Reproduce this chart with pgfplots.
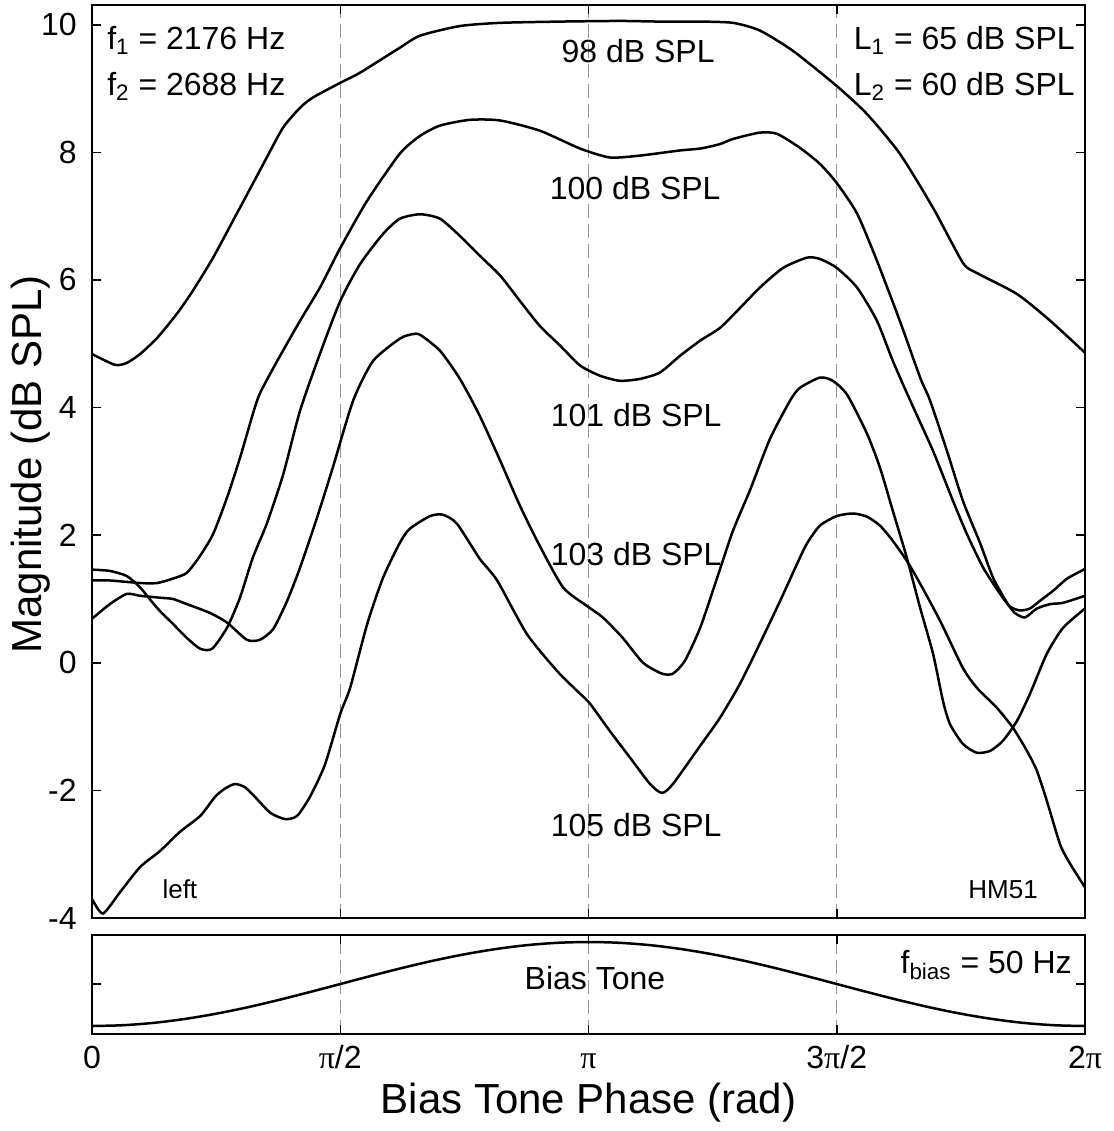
\documentclass[border=0pt]{standalone}
\usepackage{fontspec}
\setmainfont{Liberation Sans}
\newfontfamily\pifont{Liberation Serif}
\usepackage{pgfplots}
\pgfplotsset{compat=1.18}
\definecolor{gridgray}{RGB}{150,150,150}
\newcommand{\tfont}{\fontsize{16}{19}\selectfont}
\newcommand{\sfontx}{\fontsize{13}{15}\selectfont}
\newcommand{\lfont}{\fontsize{21}{25}\selectfont}
\pgfplotsset{
  crv/.style={black, line width=1.25pt, mark=none, smooth, tension=0.4},
  common/.style={
    scale only axis, width=496.5pt,
    xmin=0, xmax=2,
    font=\tfont,
    /pgf/number format/assume math mode=true,
    axis line style={line width=0.75pt},
    tick align=inside,
    major tick length=4.5pt,
    every tick/.style={black, line width=0.75pt},
    xmajorgrids,
    grid style={gridgray, line width=0.7pt, dash pattern=on 7pt off 3pt},
    ytick pos=both, xtick pos=both,
    clip=true,
  }
}
\begin{document}
\begin{tikzpicture}[every node/.append style={inner sep=0pt}]
\path[use as bounding box] (-46pt,-106.5pt) rectangle (511pt,459pt);
\begin{axis}[common, at={(0,0)}, anchor=south west,
  height=456.5pt, ymin=-4, ymax=10.31,
  ytick={-4,-2,0,2,4,6,8,10},
  xtick={0.5,1,1.5}, xticklabels={},
  yticklabel style={inner sep=0pt, xshift=-7.5pt},
]
% 98 dB SPL
\addplot[crv] coordinates {(0,4.84)(0.046,4.67)(0.070,4.70)(0.097,4.84)(0.131,5.09)(0.171,5.47)(0.203,5.83)(0.244,6.35)(0.284,6.93)(0.324,7.51)(0.352,7.92)(0.385,8.39)(0.419,8.70)(0.445,8.86)(0.500,9.09)(0.540,9.25)(0.620,9.64)(0.661,9.83)(0.741,9.98)(0.822,10.03)(0.943,10.05)(1.063,10.06)(1.144,10.05)(1.225,10.05)(1.291,10.03)(1.345,9.91)(1.412,9.59)(1.500,9.04)(1.561,8.60)(1.627,7.98)(1.694,7.13)(1.754,6.27)(1.782,6.11)(1.863,5.78)(1.930,5.36)(2.000,4.86)};
% 100 dB SPL
\addplot[crv] coordinates {(0,1.29)(0.036,1.29)(0.097,1.25)(0.131,1.25)(0.163,1.32)(0.191,1.41)(0.218,1.68)(0.244,2.02)(0.272,2.59)(0.298,3.21)(0.324,3.90)(0.338,4.22)(0.373,4.73)(0.419,5.36)(0.459,5.88)(0.500,6.50)(0.554,7.24)(0.620,7.98)(0.661,8.26)(0.701,8.42)(0.761,8.51)(0.822,8.50)(0.902,8.34)(0.983,8.06)(1.043,7.92)(1.104,7.95)(1.184,8.03)(1.225,8.06)(1.265,8.13)(1.291,8.21)(1.345,8.31)(1.380,8.29)(1.426,8.07)(1.466,7.82)(1.500,7.52)(1.541,7.04)(1.581,6.30)(1.627,5.36)(1.668,4.47)(1.688,4.11)(1.722,3.32)(1.754,2.54)(1.789,1.87)(1.815,1.33)(1.843,0.94)(1.859,0.78)(1.879,0.71)(1.903,0.85)(1.930,0.92)(1.956,0.94)(2.000,1.05)};
% 101 dB SPL
\addplot[crv] coordinates {(0,1.46)(0.036,1.44)(0.070,1.36)(0.097,1.18)(0.131,0.86)(0.163,0.61)(0.191,0.39)(0.218,0.22)(0.242,0.22)(0.272,0.55)(0.298,1.02)(0.324,1.65)(0.352,2.18)(0.385,2.95)(0.419,3.95)(0.459,4.84)(0.500,5.67)(0.540,6.25)(0.586,6.72)(0.620,6.96)(0.661,7.03)(0.701,6.96)(0.741,6.69)(0.781,6.38)(0.822,6.07)(0.862,5.67)(0.902,5.28)(0.943,4.97)(0.983,4.66)(1.023,4.50)(1.063,4.42)(1.104,4.45)(1.144,4.55)(1.184,4.81)(1.225,5.05)(1.265,5.25)(1.305,5.56)(1.345,5.88)(1.392,6.19)(1.440,6.35)(1.466,6.33)(1.500,6.19)(1.541,5.88)(1.581,5.36)(1.613,4.73)(1.648,4.11)(1.694,3.32)(1.734,2.54)(1.762,2.02)(1.795,1.49)(1.829,1.08)(1.849,0.88)(1.869,0.82)(1.889,0.85)(1.909,0.97)(1.936,1.13)(1.964,1.32)(2.000,1.47)};
% 103 dB SPL
\addplot[crv] coordinates {(0,0.69)(0.036,0.92)(0.070,1.08)(0.097,1.05)(0.137,1.02)(0.163,1.00)(0.191,0.92)(0.238,0.78)(0.272,0.63)(0.312,0.36)(0.338,0.36)(0.365,0.53)(0.393,0.97)(0.419,1.49)(0.453,2.27)(0.485,3.06)(0.526,4.11)(0.566,4.73)(0.620,5.08)(0.645,5.15)(0.661,5.14)(0.701,4.89)(0.741,4.45)(0.781,3.87)(0.822,3.17)(0.862,2.46)(0.902,1.83)(0.949,1.18)(0.997,0.89)(1.029,0.71)(1.069,0.39)(1.110,0.00)(1.148,-0.17)(1.170,-0.17)(1.194,0.03)(1.225,0.55)(1.259,1.33)(1.291,2.07)(1.325,2.70)(1.365,3.50)(1.406,4.11)(1.426,4.31)(1.466,4.47)(1.492,4.42)(1.521,4.20)(1.561,3.59)(1.587,3.06)(1.613,2.38)(1.641,1.65)(1.668,0.86)(1.694,0.14)(1.714,-0.60)(1.728,-0.96)(1.754,-1.27)(1.782,-1.41)(1.809,-1.38)(1.835,-1.22)(1.863,-0.91)(1.889,-0.49)(1.923,0.14)(1.956,0.55)(2.000,0.85)};
% 105 dB SPL
\addplot[crv] coordinates {(0,-3.70)(0.022,-3.93)(0.056,-3.60)(0.097,-3.20)(0.137,-2.95)(0.177,-2.65)(0.218,-2.40)(0.248,-2.10)(0.268,-1.97)(0.288,-1.90)(0.308,-1.95)(0.328,-2.10)(0.359,-2.35)(0.389,-2.45)(0.413,-2.40)(0.439,-2.10)(0.469,-1.60)(0.500,-0.80)(0.520,-0.39)(0.554,0.60)(0.586,1.33)(0.620,1.88)(0.640,2.10)(0.681,2.30)(0.707,2.32)(0.735,2.18)(0.781,1.63)(0.816,1.29)(0.876,0.45)(0.937,-0.13)(0.977,-0.44)(1.003,-0.64)(1.043,-1.07)(1.084,-1.49)(1.124,-1.90)(1.148,-2.04)(1.170,-1.90)(1.225,-1.30)(1.265,-0.86)(1.305,-0.33)(1.345,0.30)(1.386,0.97)(1.420,1.55)(1.440,1.87)(1.466,2.15)(1.500,2.30)(1.533,2.34)(1.561,2.29)(1.587,2.15)(1.613,1.91)(1.641,1.60)(1.668,1.24)(1.708,0.66)(1.754,-0.08)(1.782,-0.39)(1.823,-0.71)(1.855,-1.02)(1.883,-1.38)(1.903,-1.69)(1.923,-2.16)(1.950,-2.85)(1.970,-3.15)(2.000,-3.52)};
\node[anchor=base west] at (axis cs:0.030,9.61) {f\textsubscript{1} = 2176 Hz};
\node[anchor=base west] at (axis cs:0.030,8.89) {f\textsubscript{2} = 2688 Hz};
\node[anchor=base east] at (axis cs:1.980,9.61) {L\textsubscript{1} = 65 dB SPL};
\node[anchor=base east] at (axis cs:1.980,8.89) {L\textsubscript{2} = 60 dB SPL};
\node[anchor=base] at (axis cs:1.100,9.41) {98 dB SPL};
\node[anchor=base] at (axis cs:1.094,7.26) {100 dB SPL};
\node[anchor=base] at (axis cs:1.096,3.70) {101 dB SPL};
\node[anchor=base] at (axis cs:1.096,1.52) {103 dB SPL};
\node[anchor=base] at (axis cs:1.096,-2.73) {105 dB SPL};
\node[anchor=base, font=\sfontx] at (axis cs:0.177,-3.70) {left};
\node[anchor=base, font=\sfontx] at (axis cs:1.835,-3.70) {HM51};
\end{axis}
\begin{axis}[common, at={(0,-8.5pt)}, anchor=north west,
  height=49.5pt, ymin=-1.19, ymax=1.167,
  ytick={0}, yticklabels={},
  xtick={0,0.5,1,1.5,2},
  xticklabels={0,{\pifont π}/2,{\pifont π},3{\pifont π}/2,2{\pifont π}},
  xticklabel style={anchor=base, yshift=-17pt},
]
\addplot[black, line width=1.25pt, smooth] coordinates {(0,-1)(0.0625,-0.981)(0.125,-0.924)(0.1875,-0.831)(0.25,-0.707)(0.3125,-0.556)(0.375,-0.383)(0.4375,-0.195)(0.5,0)(0.5625,0.195)(0.625,0.383)(0.6875,0.556)(0.75,0.707)(0.8125,0.831)(0.875,0.924)(0.9375,0.981)(1,1)(1.0625,0.981)(1.125,0.924)(1.1875,0.831)(1.25,0.707)(1.3125,0.556)(1.375,0.383)(1.4375,0.195)(1.5,0)(1.5625,-0.195)(1.625,-0.383)(1.6875,-0.556)(1.75,-0.707)(1.8125,-0.831)(1.875,-0.924)(1.9375,-0.981)(2,-1)};
\node[anchor=base] at (axis cs:1.013,-0.14) {Bias Tone};
\node[anchor=base east] at (axis cs:1.974,0.24) {f\textsubscript{bias} = 50 Hz};
\end{axis}
\node[rotate=90, anchor=base, font=\lfont] at (-25pt,226.75pt) {Magnitude (dB SPL)};
\node[anchor=base, font=\lfont] at (248.25pt,-97.5pt) {Bias Tone Phase (rad)};
\end{tikzpicture}
\end{document}
